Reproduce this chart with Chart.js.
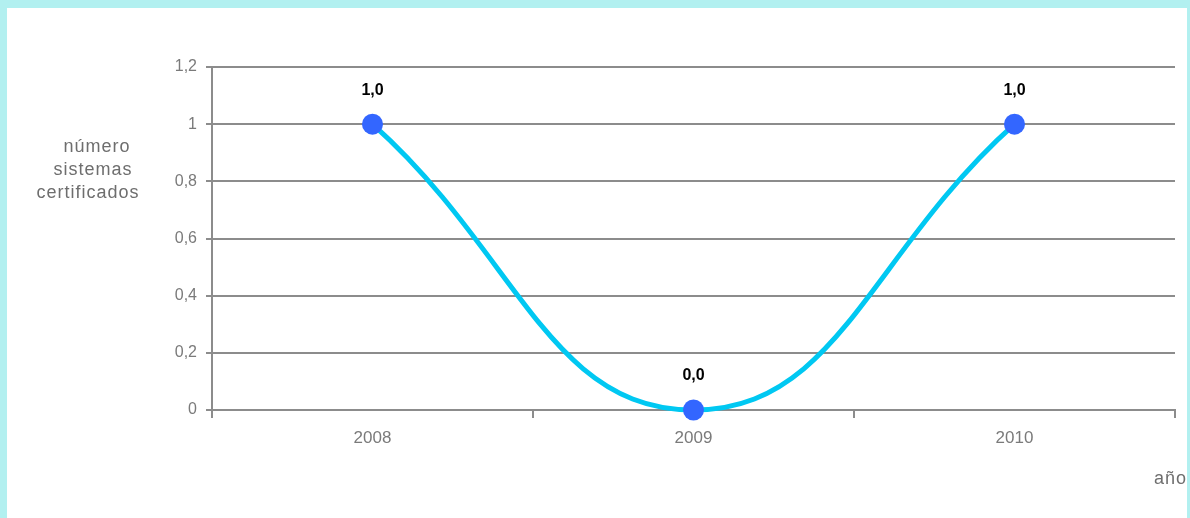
<!DOCTYPE html>
<html>
<head>
<meta charset="utf-8">
<script src="https://cdn.jsdelivr.net/npm/chart.js@4/dist/chart.umd.min.js"></script>
<style>
  html, body { margin: 0; padding: 0; background: #b2f0f0; }
  #frame { position: absolute; left: 7px; top: 8px; width: 1180px; height: 510px; background: #fff; }
  canvas { display: block; }
</style>
</head>
<body>
<div id="frame"><canvas id="chart" width="1180" height="510"></canvas></div>
<script>
const years = ['2008', '2009', '2010'];
const sistemas = [1, 0, 1];
const yTitle = ['número', 'sistemas', 'certificados'];
const xTitle = 'año';

const fmt = v => String(Math.round(v * 10) / 10).replace('.', ',');

// etiquetas de valor y títulos de ejes
const extras = {
    id: 'extras',
    afterDatasetsDraw(chart) {
        const ctx = chart.ctx;
        const meta = chart.getDatasetMeta(0);
        ctx.save();
        ctx.fillStyle = '#000';
        ctx.font = 'bold 16px "Liberation Sans", Arial, sans-serif';
        ctx.textAlign = 'center';
        ctx.textBaseline = 'middle';
        meta.data.forEach((pt, i) => {
            ctx.fillText(sistemas[i].toFixed(1).replace('.', ','), pt.x, pt.y - 34);
        });
        ctx.fillStyle = '#6e6e6e';
        ctx.font = '18px "Liberation Sans", Arial, sans-serif';
        ctx.letterSpacing = '1px';
        const cx = [90, 86, 81];
        yTitle.forEach((t, i) => ctx.fillText(t, cx[i], 139 + i * 23));
        ctx.textAlign = 'right';
        ctx.fillText(xTitle, 1180, 471);
        ctx.restore();
    }
};

new Chart(document.getElementById('chart'), {
    type: 'line',
    data: {
        labels: years,
        datasets: [{
            data: sistemas,
            borderColor: '#00c8f2',
            borderWidth: 5,
            tension: 0.45,
            pointRadius: 10.5,
            pointBackgroundColor: '#3366ff',
            pointBorderColor: '#3366ff',
            pointBorderWidth: 0,
            clip: false
        }]
    },
    options: {
        responsive: false,
        animation: false,
        layout: { padding: { left: 0, top: 59, right: 12, bottom: 0 } },
        plugins: {
            legend: { display: false },
            tooltip: { enabled: false }
        },
        scales: {
            x: {
                offset: true,
                grid: {
                    offset: true,
                    drawOnChartArea: false,
                    color: '#8c8c8c',
                    lineWidth: 2,
                    tickLength: 8
                },
                border: { display: true, color: '#8c8c8c', width: 2 },
                ticks: {
                    color: '#7a7a7a',
                    font: { family: '"Liberation Sans", Arial, sans-serif', size: 17 },
                    padding: 10
                },
                afterFit(scale) { scale.height = 108; }
            },
            y: {
                min: 0,
                max: 1.2,
                ticks: {
                    stepSize: 0.2,
                    color: '#7a7a7a',
                    font: { family: '"Liberation Sans", Arial, sans-serif', size: 16 },
                    padding: 9,
                    callback: v => fmt(v)
                },
                grid: {
                    color: '#8c8c8c',
                    lineWidth: 2,
                    tickLength: 6
                },
                border: { display: true, color: '#8c8c8c', width: 2 },
                afterFit(scale) { scale.width = 205; }
            }
        }
    },
    plugins: [extras]
});
</script>
</body>
</html>
